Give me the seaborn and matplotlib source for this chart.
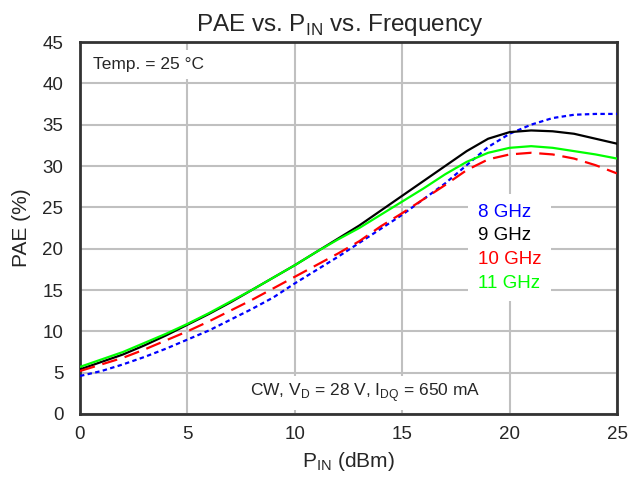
import matplotlib
matplotlib.use("Agg")
import matplotlib.pyplot as plt
import seaborn as sns
import pandas as pd

pin = list(range(0, 26))
pae_8ghz = [4.6, 5.2, 6.0, 6.9, 7.9, 9.0, 10.1, 11.4, 12.7, 14.1, 15.8, 17.4, 19.0, 20.7, 22.4,
            24.1, 26.0, 27.9, 30.1, 32.3, 33.9, 35.0, 35.8, 36.2, 36.3, 36.3]
pae_9ghz = [5.4, 6.3, 7.2, 8.3, 9.5, 10.8, 12.1, 13.5, 15.0, 16.5, 18.0, 19.6, 21.2, 22.8, 24.6,
            26.4, 28.2, 30.0, 31.8, 33.3, 34.1, 34.3, 34.2, 33.9, 33.3, 32.7]
pae_10ghz = [5.2, 6.0, 6.8, 7.8, 8.9, 10.0, 11.2, 12.5, 13.8, 15.2, 16.6, 18.0, 19.4, 20.9, 22.7,
             24.3, 26.0, 27.7, 29.5, 30.8, 31.4, 31.6, 31.4, 30.9, 30.1, 29.1]
pae_11ghz = [5.7, 6.6, 7.5, 8.6, 9.7, 10.9, 12.2, 13.6, 15.0, 16.5, 18.0, 19.6, 21.1, 22.5, 24.1,
             25.7, 27.3, 29.0, 30.5, 31.6, 32.2, 32.4, 32.2, 31.8, 31.4, 30.9]

labels = ["8 GHz", "9 GHz", "10 GHz", "11 GHz"]
series = [pae_8ghz, pae_9ghz, pae_10ghz, pae_11ghz]
colors = ["#0000ff", "#000000", "#ff0000", "#00ff00"]
dashes = [(2, 1.5), "", (7, 3.5), ""]

rows = []
for lab, vals in zip(labels, series):
    for x, y in zip(pin, vals):
        rows.append({"Pin": x, "PAE": y, "Freq": lab})
df = pd.DataFrame(rows)

sns.set_style("white")
plt.rcParams["font.family"] = ["Liberation Sans", "DejaVu Sans"]

fig = plt.figure(figsize=(6.41, 4.79), dpi=100)
ax = fig.add_axes([0.1248, 0.1357, 0.9626 - 0.1248, 0.9123 - 0.1357])

sns.lineplot(data=df, x="Pin", y="PAE", hue="Freq", style="Freq",
             palette=dict(zip(labels, colors)), dashes=dict(zip(labels, dashes)),
             hue_order=labels, style_order=labels, linewidth=1.6, ax=ax, zorder=3)

ax.set_xlim(0, 25)
ax.set_ylim(0, 45)
ax.set_xticks(range(0, 26, 5))
ax.set_yticks(range(0, 46, 5))
ax.grid(True, color="#c0c0c0", linewidth=1.5)
ax.set_axisbelow(True)
for s in ax.spines.values():
    s.set_color("#333333")
    s.set_linewidth(2)
ax.tick_params(axis="x", labelsize=13.5, length=0, pad=9)
ax.tick_params(axis="y", labelsize=13.5, length=0, pad=12)

ax.set_xlabel("P$_{\\mathregular{IN}}$ (dBm)", fontsize=15, labelpad=5)
ax.set_ylabel("PAE (%)", fontsize=15, labelpad=8)
fig.text(0.530, 0.948, "PAE vs. P$_{\\mathregular{IN}}$ vs. Frequency", fontsize=17.5,
         ha="center", va="center")

ax.text(0.6, 42.3, "Temp. = 25 °C", fontsize=12.5, va="center", ha="left",
        bbox=dict(facecolor="white", edgecolor="none", pad=5), zorder=4)
ax.text(13.27, 2.6, "CW, V$_{\\mathregular{D}}$ = 28 V, I$_{\\mathregular{DQ}}$ = 650 mA",
        fontsize=12.5, va="center", ha="center",
        bbox=dict(facecolor="white", edgecolor="none", pad=4), zorder=4)

leg = ax.legend(handlelength=0, handletextpad=0, labelcolor="linecolor",
                frameon=True, facecolor="white", edgecolor="none", framealpha=1,
                fontsize=13.5, loc="center", bbox_to_anchor=(0.80, 0.447),
                labelspacing=0.35, borderpad=0.5)
for h in leg.legend_handles:
    h.set_visible(False)
leg.set_zorder(5)

fig.savefig("out.png", dpi=100)
